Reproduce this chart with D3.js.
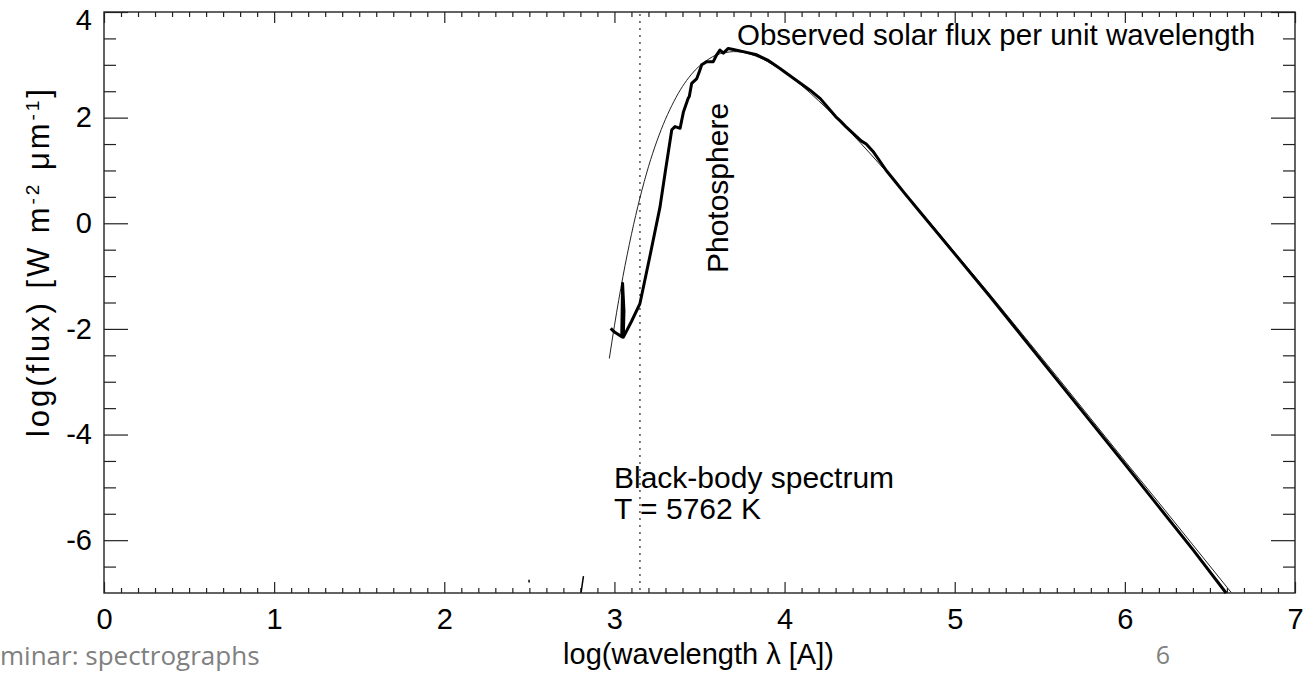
<!DOCTYPE html>
<html>
<head>
<meta charset="utf-8">
<script src="https://cdn.jsdelivr.net/npm/d3@7"></script>
<style>
  body { margin: 0; background: #fff; }
  svg { display: block; }
  text { font-family: "Liberation Sans", Arial, sans-serif; }
</style>
</head>
<body>
<div id="chart"></div>
<script>
// black-body curve (T = 5762 K)
var bbLogLambda = [2.97, 3.00, 3.05, 3.10, 3.15, 3.20, 3.25, 3.30, 3.35, 3.40, 3.45, 3.50, 3.55, 3.60, 3.65, 3.70,
    3.75, 3.80, 3.85, 3.90, 4.00, 4.10, 4.20, 4.30, 4.40, 4.50, 4.60, 4.70, 4.80, 4.90, 5.00, 5.20, 5.40,
    5.60, 5.80, 6.00, 6.20, 6.40, 6.60, 6.625];
var bbLogFlux = [-2.56, -1.94, -1.01, -0.21, 0.48, 1.07, 1.56, 1.97, 2.31, 2.59, 2.81, 2.98, 3.10, 3.19, 3.23, 3.25,
    3.24, 3.20, 3.14, 3.06, 2.86, 2.61, 2.32, 2.01, 1.68, 1.33, 0.97, 0.60, 0.22, -0.16, -0.55, -1.32, -2.11,
    -2.90, -3.70, -4.50, -5.29, -6.09, -6.89, -6.99];

// observed solar spectrum (thick line)
var obsLogLambda = [2.978, 2.99, 3.005, 3.043, 3.048, 3.056, 3.052, 3.10, 3.150, 3.21, 3.268, 3.30, 3.337, 3.356,
    3.386, 3.405, 3.434, 3.440, 3.454, 3.484, 3.50, 3.513, 3.542, 3.581, 3.601, 3.620, 3.640, 3.669, 3.699,
    3.757, 3.836, 3.90, 3.973, 4.05, 4.150, 4.21, 4.30, 4.33, 4.36, 4.45, 4.48, 4.52, 4.60, 4.65, 4.70, 4.80,
    5.00, 5.20, 5.40, 5.60, 5.80, 6.00, 6.20, 6.40, 6.595];
var obsLogFlux = [-1.99, -2.03, -2.07, -2.15, -1.14, -1.66, -2.16, -1.86, -1.52, -0.60, 0.31, 1.00, 1.77, 1.83,
    1.80, 2.10, 2.37, 2.40, 2.65, 2.74, 2.88, 3.00, 3.06, 3.06, 3.19, 3.28, 3.22, 3.31, 3.29,
    3.25, 3.19, 3.09, 2.93, 2.75, 2.52, 2.36, 2.02, 1.93, 1.83, 1.56, 1.50, 1.36, 0.99, 0.79, 0.59, 0.20,
    -0.58, -1.36, -2.16, -2.96, -3.76, -4.56, -5.37, -6.18, -7.0];

// stray bits of the observed spectrum near the bottom
var fragLogLambda = [[2.498, 2.499], [2.804, 2.818]];
var fragLogFlux = [[-6.75, -6.80], [-6.99, -6.68]];

var dottedLogLambda = 3.15;
var xTicks = [0, 1, 2, 3, 4, 5, 6, 7];
var yTicks = [4, 2, 0, -2, -4, -6];

var width = 1312, height = 674;
var margin = { top: 12, left: 104, right: 17, bottom: 81 };

var svg = d3.select("#chart").append("svg")
    .attr("width", width)
    .attr("height", height);

var x = d3.scaleLinear().domain([0, 7]).range([margin.left, width - margin.right]);
var y = d3.scaleLinear().domain([-7, 4]).range([height - margin.bottom, margin.top]);

var x0 = x.range()[0], x1 = x.range()[1], y0 = y.range()[0], y1 = y.range()[1];
var axisColor = "#222";

// minor tick values
var xMinor = d3.range(0, 71).map(function (i) { return i / 10; }).filter(function (v) { return v % 1 !== 0; });
var yMinor = d3.range(-14, 9).map(function (i) { return i / 2; }).filter(function (v) { return yTicks.indexOf(v) < 0 && v > -7 && v < 4; });

function styleAxis(g) {
    g.select(".domain").remove();
    g.selectAll("line").attr("stroke", axisColor).attr("stroke-width", 1.2);
    g.selectAll("text").attr("fill", "#000").style("font-size", "29px");
}

// bottom
svg.append("g").attr("transform", "translate(0," + y0 + ")")
    .call(d3.axisBottom(x).tickValues(xTicks).tickSize(-11).tickPadding(15).tickFormat(function (d) { return String(d); }))
    .call(styleAxis);
svg.append("g").attr("transform", "translate(0," + y0 + ")")
    .call(d3.axisBottom(x).tickValues(xMinor).tickSize(-5).tickFormat(""))
    .call(styleAxis);
// top
svg.append("g").attr("transform", "translate(0," + y1 + ")")
    .call(d3.axisTop(x).tickValues(xTicks).tickSize(-11).tickFormat(""))
    .call(styleAxis);
svg.append("g").attr("transform", "translate(0," + y1 + ")")
    .call(d3.axisTop(x).tickValues(xMinor).tickSize(-5).tickFormat(""))
    .call(styleAxis);
// left
var leftAxis = svg.append("g").attr("transform", "translate(" + x0 + ",0)")
    .call(d3.axisLeft(y).tickValues(yTicks).tickSize(-24).tickPadding(12).tickFormat(function (d) { return String(d); }))
    .call(styleAxis);
leftAxis.selectAll(".tick text").filter(function (d) { return d === 4; }).attr("dy", "0.6em");
svg.append("g").attr("transform", "translate(" + x0 + ",0)")
    .call(d3.axisLeft(y).tickValues(yMinor).tickSize(-12).tickFormat(""))
    .call(styleAxis);
// right
svg.append("g").attr("transform", "translate(" + x1 + ",0)")
    .call(d3.axisRight(y).tickValues(yTicks).tickSize(-24).tickFormat(""))
    .call(styleAxis);
svg.append("g").attr("transform", "translate(" + x1 + ",0)")
    .call(d3.axisRight(y).tickValues(yMinor).tickSize(-12).tickFormat(""))
    .call(styleAxis);

// frame
svg.append("rect")
    .attr("x", x0).attr("y", y1)
    .attr("width", x1 - x0).attr("height", y0 - y1)
    .attr("fill", "none")
    .attr("stroke", axisColor)
    .attr("stroke-width", 1.4);

// dotted vertical line
svg.append("line")
    .attr("x1", x(dottedLogLambda)).attr("x2", x(dottedLogLambda))
    .attr("y1", y1 + 2).attr("y2", y0)
    .attr("stroke", "#444")
    .attr("stroke-width", 1.4)
    .attr("stroke-dasharray", "2,5");

var line = d3.line()
    .x(function (d) { return x(d[0]); })
    .y(function (d) { return y(d[1]); });

// black body (thin)
var bb = bbLogLambda.map(function (v, i) { return [v, bbLogFlux[i]]; });
svg.append("path")
    .datum(bb)
    .attr("d", line.curve(d3.curveMonotoneX))
    .attr("fill", "none")
    .attr("stroke", "#222")
    .attr("stroke-width", 1);

// observed (thick)
line.curve(d3.curveLinear);
var obs = obsLogLambda.map(function (v, i) { return [v, obsLogFlux[i]]; });
svg.append("path")
    .datum(obs)
    .attr("d", line)
    .attr("fill", "none")
    .attr("stroke", "#000")
    .attr("stroke-width", 3)
    .attr("stroke-linejoin", "round");

fragLogLambda.forEach(function (xs, k) {
    svg.append("path")
        .datum(xs.map(function (v, i) { return [v, fragLogFlux[k][i]]; }))
        .attr("d", line)
        .attr("fill", "none")
        .attr("stroke", "#000")
        .attr("stroke-width", 1.5);
});

// annotations
svg.append("text")
    .attr("x", 737).attr("y", 45)
    .style("font-size", "29.5px")
    .text("Observed solar flux per unit wavelength");

svg.append("text")
    .attr("transform", "translate(728,188) rotate(-90)")
    .attr("text-anchor", "middle")
    .style("font-size", "30px")
    .text("Photosphere");

svg.append("text")
    .attr("x", 614).attr("y", 488)
    .style("font-size", "30px")
    .text("Black-body spectrum");
svg.append("text")
    .attr("x", 614).attr("y", 519)
    .style("font-size", "30px")
    .text("T = 5762 K");

// axis titles
svg.append("text")
    .attr("x", (x0 + x1) / 2 - 1).attr("y", 664)
    .attr("text-anchor", "middle")
    .style("font-size", "29px")
    .text("log(wavelength \u03bb [A])");

var yTitle = svg.append("text")
    .attr("transform", "translate(49,263) rotate(-90)")
    .attr("text-anchor", "middle")
    .attr("textLength", 348)
    .attr("lengthAdjust", "spacing")
    .style("font-size", "31px");
yTitle.append("tspan").text("log(flux) [W m");
yTitle.append("tspan").attr("baseline-shift", "super").style("font-size", "19px").text("-2");
yTitle.append("tspan").text(" \u03bcm");
yTitle.append("tspan").attr("baseline-shift", "super").style("font-size", "19px").text("-1");
yTitle.append("tspan").text("]");

// slide footer
svg.append("text")
    .attr("x", 0).attr("y", 665)
    .style("font-family", "'Open Sans', sans-serif")
    .style("font-size", "26px")
    .attr("fill", "#808080")
    .text("minar: spectrographs");
svg.append("text")
    .attr("x", 1163).attr("y", 664)
    .attr("text-anchor", "middle")
    .style("font-family", "'Open Sans', sans-serif")
    .style("font-size", "25px")
    .attr("fill", "#808080")
    .text("6");
</script>
</body>
</html>
